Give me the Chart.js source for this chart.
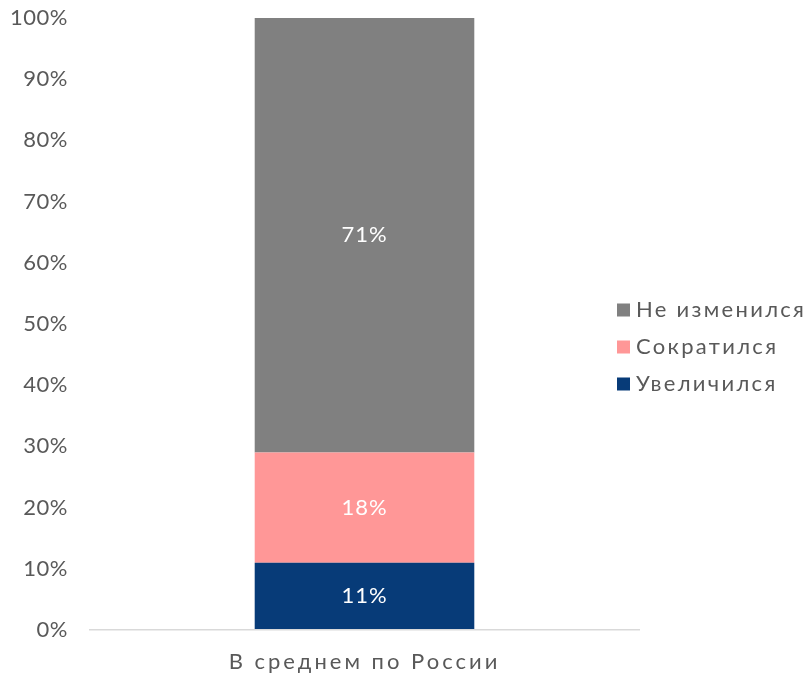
<!DOCTYPE html>
<html>
<head>
<meta charset="utf-8">
<script src="https://cdn.jsdelivr.net/npm/chart.js@4"></script>
<style>
  html, body { margin: 0; padding: 0; background: #ffffff; }
  #wrap { width: 806px; height: 675px; position: relative; }
</style>
</head>
<body>
<div id="wrap"><canvas id="c" width="806" height="675"></canvas></div>
<script>
const categories = ["В среднем по России"];
const seriesNames = ["Увеличился", "Сократился", "Не изменился"];
const increased = [11];
const decreased = [18];
const unchanged = [71];
const seriesColors = ["#073B78", "#FF9797", "#808080"];
const yTicks = [0, 10, 20, 30, 40, 50, 60, 70, 80, 90, 100];

const FONT = "Lato, 'Open Sans', sans-serif";
const TEXT = "#595959";

const textPlugin = {
  id: 'texts',
  beforeDraw(chart) {
    chart.ctx.letterSpacing = '0.5px';
  },
  beforeDatasetsDraw(chart) {
    chart.ctx.letterSpacing = '0px';
  },
  afterDatasetsDraw(chart) {
    const ctx = chart.ctx;
    ctx.save();
    ctx.letterSpacing = '1px';
    ctx.font = "22px " + FONT;
    ctx.fillStyle = "#ffffff";
    ctx.textAlign = "center";
    ctx.textBaseline = "middle";
    chart.data.datasets.forEach((ds, i) => {
      const meta = chart.getDatasetMeta(i);
      meta.data.forEach((bar, j) => {
        const v = ds.data[j];
        const y = (bar.y + bar.base) / 2;
        ctx.fillText(v + "%", bar.x, y);
      });
    });
    ctx.restore();
    ctx.letterSpacing = '3px';
  },
  afterDraw(chart) {
    const ctx = chart.ctx;
    ctx.save();
    ctx.letterSpacing = '2.3px';
    ctx.font = "22px " + FONT;
    ctx.textAlign = "left";
    ctx.textBaseline = "middle";
    const n = chart.data.datasets.length;
    const x0 = 617, yTop = 310, step = 37, box = 13;
    for (let k = 0; k < n; k++) {
      const ds = chart.data.datasets[n - 1 - k];
      const y = yTop + k * step;
      ctx.fillStyle = ds.backgroundColor;
      ctx.fillRect(x0, y - box / 2, box, box);
      ctx.fillStyle = TEXT;
      ctx.fillText(ds.label, x0 + 19, y);
    }
    ctx.restore();
    ctx.letterSpacing = '0px';
  }
};

new Chart(document.getElementById('c'), {
  type: 'bar',
  data: {
    labels: categories,
    datasets: [
      { label: seriesNames[0], data: increased, backgroundColor: seriesColors[0] },
      { label: seriesNames[1], data: decreased, backgroundColor: seriesColors[1] },
      { label: seriesNames[2], data: unchanged, backgroundColor: seriesColors[2] }
    ]
  },
  options: {
    responsive: false,
    animation: false,
    layout: { padding: { left: 0, right: 167, top: 0, bottom: 0 } },
    datasets: { bar: { barPercentage: 0.4, categoryPercentage: 1.0 } },
    plugins: {
      legend: { display: false },
      tooltip: { enabled: false }
    },
    scales: {
      x: {
        stacked: true,
        grid: { display: false, drawTicks: false },
        border: { display: true, color: "#d9d9d9", width: 1.5, z: 1 },
        ticks: { color: TEXT, font: { family: FONT, size: 22 }, padding: 19, z: 1 },
        afterFit(scale) {
          scale.height = 45;
          scale.paddingLeft = 0;
          scale.paddingRight = 0;
        }
      },
      y: {
        stacked: true,
        min: 0, max: 100,
        afterBuildTicks(axis) { axis.ticks = yTicks.map(v => ({ value: v })); },
        grid: { display: false, drawTicks: false },
        border: { display: false },
        ticks: {
          color: TEXT,
          font: { family: FONT, size: 22 },
          padding: 22,
          callback: v => v + "%"
        },
        afterFit(scale) {
          scale.width = 90;
          scale.paddingTop = 18;
          scale.paddingBottom = 0;
        }
      }
    }
  },
  plugins: [textPlugin]
});
</script>
</body>
</html>
